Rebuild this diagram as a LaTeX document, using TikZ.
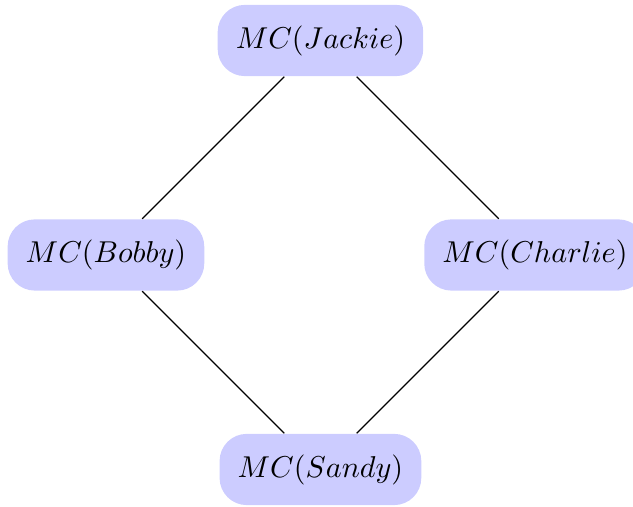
\documentclass[tikz,border=0pt]{standalone}
\usepackage{amsmath}
\usepackage{tikz}
\usetikzlibrary{positioning}

\begin{document}
\begin{tikzpicture}[
  mc/.style={rectangle, rounded corners=9pt, fill=blue!20, inner xsep=6pt, minimum height=0.83cm},
  edge/.style={thin, black}
]
\useasboundingbox (-3.735,-2.931) rectangle (3.643,2.972);
\node (jackie) [mc] at (0,2.5) {$MC(Jackie)$};
\node (bobby) [mc] at (-2.5,0) {$MC(Bobby)$};
\node (charlie) [mc] at (2.5,0) {$MC(Charlie)$};
\node (sandy) [mc] at (0,-2.5) {$MC(Sandy)$};

\draw [edge] (jackie) -- (bobby);
\draw [edge] (jackie) -- (charlie);
\draw [edge] (bobby) -- (sandy);
\draw [edge] (charlie) -- (sandy);
\end{tikzpicture}
\end{document}
